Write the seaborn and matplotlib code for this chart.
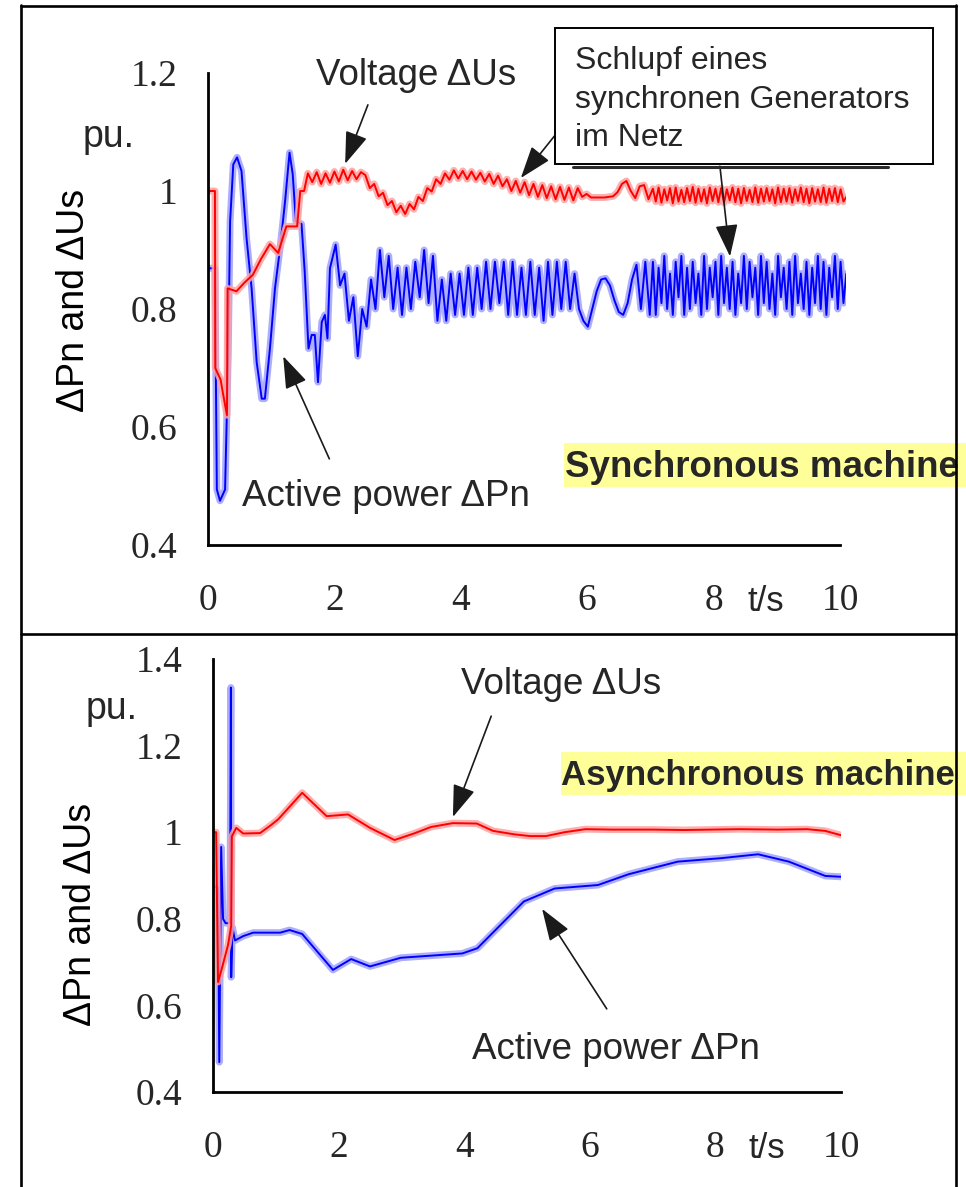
#!/usr/bin/env python3
"""
Recreate the scanned figure: active power and voltage after a fault,
synchronous machine (top) versus asynchronous machine (bottom).
"""

import numpy as np
import matplotlib
matplotlib.use("Agg")
import matplotlib.pyplot as plt
from matplotlib.lines import Line2D
from matplotlib.patches import Rectangle
import seaborn as sns

# ---------------------------------------------------------------- data
XTICKS = [0, 2, 4, 6, 8, 10]
XTICK_LABELS = ['0', '2', '4', '6', '8', '10']
YTICKS_TOP = [0.4, 0.6, 0.8, 1.0, 1.2]
YTICK_LABELS_TOP = ['0.4', '0.6', '0.8', '1', '1.2']
YTICKS_BOT = [0.4, 0.6, 0.8, 1.0, 1.2, 1.4]
YTICK_LABELS_BOT = ['0.4', '0.6', '0.8', '1', '1.2', '1.4']

# synchronous machine, voltage dUs: start-up transient
SYN_U_T = [0, 0.11, 0.115, 0.20, 0.24, 0.30, 0.31, 0.45, 0.58, 0.71, 0.84,
           0.98, 1.11, 1.24, 1.41, 1.46, 1.52]
SYN_U_V = [1.0, 1.0, 0.70, 0.68, 0.655, 0.62, 0.835, 0.83, 0.845, 0.858, 0.885,
           0.91, 0.895, 0.94, 0.94, 1.0, 1.0]
# ... then the ripple, one reading every SYN_U_STEP seconds from SYN_U_T0
SYN_U_T0 = 1.58
SYN_U_STEP = 0.07
SYN_U_RIPPLE = [
    1.03, 1.015, 1.032, 1.012, 1.03, 1.014, 1.033, 1.016, 1.036, 1.018, 1.034, 1.02, 1.032,
    1.027, 1.005, 1.012, 0.991, 0.997, 0.976, 0.983, 0.964, 0.975, 0.961, 0.978,
    0.969, 0.99, 0.983, 1.005, 0.999, 1.02, 1.012, 1.03, 1.019, 1.035, 1.021,
    1.034, 1.02, 1.033, 1.019, 1.031, 1.016, 1.029, 1.012, 1.026, 1.008,
    1.02, 1.0, 1.017, 0.997, 1.015, 0.993, 1.012, 0.99, 1.01, 0.988, 1.008, 0.986,
    1.007, 0.985, 1.006, 0.984, 1.005, 0.99,
    0.995, 0.989, 0.989, 0.989, 0.989, 0.99, 0.991, 0.998, 1.012, 1.017, 1.0, 0.988,
    1.008, 1.01, 0.986,
]
# fast ripple in the last seconds, finer sampling
SYN_U_T1 = 7.04
SYN_U_STEP1 = 0.045
SYN_U_FAST = [
    1.004, 0.982, 1.006, 0.980, 1.003, 0.984, 1.005, 0.979, 1.006, 0.982,
    1.002, 0.981, 1.005, 0.983, 1.007, 0.980, 1.004, 0.982, 1.003, 0.979,
    1.006, 0.983, 1.004, 0.981, 1.005, 0.980, 1.003, 0.984, 1.006, 0.981,
    1.004, 0.979, 1.005, 0.983, 1.002, 0.981, 1.006, 0.980, 1.004, 0.982,
    1.005, 0.983, 1.003, 0.979, 1.006, 0.981, 1.004, 0.982, 1.005, 0.980,
    1.003, 0.983, 1.006, 0.981, 1.004, 0.979, 1.005, 0.982, 1.003, 0.981,
    1.006, 0.980, 1.004, 0.983, 1.005, 0.981, 1.003, 0.982, 0.990,
]

# synchronous machine, active power dPn: start-up transient
SYN_P_T = [0, 0.11, 0.14, 0.19, 0.27, 0.32, 0.35, 0.40, 0.46, 0.53, 0.61, 0.69,
           0.77, 0.85, 0.90, 0.98, 1.06, 1.14, 1.22, 1.29, 1.34, 1.39, 1.48,
           1.53, 1.59, 1.64, 1.69, 1.74, 1.80, 1.85, 1.89, 1.93, 2.02]
SYN_P_V = [0.869, 0.869, 0.494, 0.475, 0.494, 0.722, 0.949, 1.045, 1.057, 1.034,
           0.92, 0.835, 0.71, 0.648, 0.648, 0.733, 0.835, 0.903, 0.983, 1.065,
           1.029, 0.949, 0.944, 0.864, 0.733, 0.756, 0.756, 0.676, 0.778, 0.79,
           0.75, 0.869, 0.909]
SYN_P_T0 = 2.09
SYN_P_STEP = 0.07
SYN_P_RIPPLE = [
    0.84, 0.86, 0.78, 0.82, 0.72, 0.80, 0.77, 0.85, 0.80, 0.90,
    0.82, 0.89, 0.80, 0.87, 0.79, 0.87, 0.80, 0.88, 0.82, 0.90,
    0.81, 0.89, 0.78, 0.85, 0.78, 0.86, 0.79, 0.86, 0.79, 0.87,
    0.79, 0.87, 0.80, 0.88, 0.80, 0.88, 0.81, 0.88, 0.79, 0.88,
    0.79, 0.87, 0.79, 0.88, 0.79, 0.87, 0.78, 0.88, 0.79, 0.88,
    0.80, 0.88, 0.80, 0.86, 0.80, 0.78, 0.77, 0.80, 0.83, 0.85,
    0.852, 0.84, 0.815, 0.795, 0.79, 0.81, 0.85, 0.875, 0.80, 0.88,
    0.79,
]
SYN_P_T1 = 7.04
SYN_P_STEP1 = 0.045
SYN_P_FAST = [
    0.88, 0.79, 0.87, 0.81, 0.89, 0.80, 0.86, 0.79, 0.88, 0.82,
    0.89, 0.79, 0.87, 0.80, 0.88, 0.81, 0.86, 0.79, 0.89, 0.80,
    0.87, 0.82, 0.88, 0.79, 0.89, 0.81, 0.87, 0.80, 0.88, 0.79,
    0.86, 0.81, 0.89, 0.80, 0.88, 0.82, 0.87, 0.79, 0.89, 0.81,
    0.88, 0.80, 0.86, 0.79, 0.89, 0.82, 0.87, 0.80, 0.88, 0.79,
    0.89, 0.81, 0.86, 0.80, 0.88, 0.79, 0.87, 0.81, 0.89, 0.80,
    0.88, 0.79, 0.87, 0.82, 0.89, 0.80, 0.88, 0.81, 0.86,
]

# asynchronous machine
ASY_U_T = [0, 0.05, 0.08, 0.15, 0.24, 0.29, 0.30, 0.37, 0.48, 0.75, 0.92, 1.04,
           1.42, 1.81, 2.15, 2.5, 2.89, 3.2, 3.47, 3.82, 4.2, 4.46, 4.8, 5.05,
           5.3, 5.6, 5.93, 6.35, 7.0, 7.5, 8.38, 9.0, 9.46, 9.75, 10.0]
ASY_U_V = [1.0, 1.0, 0.654, 0.69, 0.74, 0.784, 0.99, 1.01, 0.997, 0.998, 1.016,
           1.03, 1.091, 1.037, 1.041, 1.01, 0.982, 0.997, 1.012, 1.021, 1.02,
           1.003, 0.995, 0.991, 0.991, 1.0, 1.007, 1.006, 1.006, 1.005, 1.007,
           1.006, 1.007, 1.003, 0.993]
ASY_P_T = [0, 0.08, 0.10, 0.13, 0.16, 0.20, 0.27, 0.285, 0.29, 0.31, 0.35, 0.48,
           0.64, 1.07, 1.22, 1.42, 1.91, 2.2, 2.5, 2.99, 3.97, 4.21, 4.95, 5.44,
           6.13, 6.62, 7.4, 8.09, 8.68, 9.17, 9.75, 10.0]
ASY_P_V = [0.873, 0.873, 0.469, 0.966, 0.80, 0.79, 0.79, 1.334, 0.665, 0.78,
           0.75, 0.76, 0.768, 0.768, 0.774, 0.765, 0.682, 0.707, 0.69, 0.71,
           0.72, 0.732, 0.84, 0.87, 0.878, 0.903, 0.932, 0.94, 0.949, 0.932,
           0.899, 0.897]

# ---------------------------------------------------------------- style
W, H = 966, 1187
SANS = ['Liberation Sans', 'DejaVu Sans']
SERIF = ['Liberation Serif', 'DejaVu Serif']
RED, RED_HALO = '#ff0000', '#ffa0a0'
BLUE, BLUE_HALO = '#0000ff', '#a0a0ff'
YELLOW = '#ffff99'

sns.set_theme(style='white')
plt.rcParams['font.family'] = SANS


def fx(px):
    return px / W


def fy(py):
    return 1 - py / H


def joined(t_head, v_head, *sampled):
    """Transient readings followed by blocks read at a fixed sampling step."""
    ts, vs = [np.asarray(t_head, float)], [np.asarray(v_head, float)]
    for t0, step, vals in sampled:
        ts.append(t0 + step * np.arange(len(vals)))
        vs.append(np.asarray(vals, float))
    return np.concatenate(ts), np.concatenate(vs)


def trace(ax, t, v, color, halo):
    # scanned lines: pale smeared edge with a saturated core
    sns.lineplot(x=t, y=v, sort=False, estimator=None, color=halo,
                 linewidth=5.0, alpha=0.85, ax=ax)
    sns.lineplot(x=t, y=v, sort=False, estimator=None, color=color,
                 linewidth=1.4, ax=ax)


def style_axes(ax, yticks, ylabels, ylim, xlim, ylab_y):
    ax.set_xlim(*xlim)
    ax.set_ylim(*ylim)
    sns.despine(ax=ax)
    ax.patch.set_visible(False)
    for side in ('left', 'bottom'):
        ax.spines[side].set_linewidth(2.0)
        ax.spines[side].set_color('black')
    ax.spines['bottom'].set_bounds(0, 10)
    ax.set_xticks(XTICKS, XTICK_LABELS)
    ax.set_yticks(yticks, ylabels)
    ax.tick_params(direction='out', length=9, width=1.9, colors='black',
                   labelcolor='#262626', labelsize=27)
    ax.tick_params(axis='x', pad=19)
    ax.tick_params(axis='y', pad=13)
    for lbl in ax.get_xticklabels() + ax.get_yticklabels():
        lbl.set_fontfamily(SERIF)
    ax.set_xlabel('')
    ax.set_ylabel('ΔPn and ΔUs', fontsize=27, color='black')
    ax.yaxis.set_label_coords(-0.182, ylab_y)


def arrow(ax, tip, tail):
    ax.annotate('', xy=tip, xytext=tail, annotation_clip=False,
                arrowprops=dict(arrowstyle='-|>,head_length=1.0,head_width=0.35',
                                mutation_scale=20, color='#1a1a1a', lw=1.2,
                                shrinkA=0, shrinkB=0))


fig = plt.figure(figsize=(W / 100, H / 100), dpi=100)
fig.patch.set_facecolor('white')

# ---------------------------------------------------------------- top panel
ax1 = fig.add_axes([fx(208), fy(545), 638.3 / W, 472 / H])
syn_p_t, syn_p_v = joined(SYN_P_T, SYN_P_V,
                          (SYN_P_T0, SYN_P_STEP, SYN_P_RIPPLE),
                          (SYN_P_T1, SYN_P_STEP1, SYN_P_FAST))
syn_u_t, syn_u_v = joined(SYN_U_T, SYN_U_V,
                          (SYN_U_T0, SYN_U_STEP, SYN_U_RIPPLE),
                          (SYN_U_T1, SYN_U_STEP1, SYN_U_FAST))
trace(ax1, syn_p_t, syn_p_v, BLUE, BLUE_HALO)
trace(ax1, syn_u_t, syn_u_v, RED, RED_HALO)
style_axes(ax1, YTICKS_TOP, YTICK_LABELS_TOP, (0.4, 1.2), (0, 10.1), 0.519)
ax1.annotate('t/s', xy=(8.83, 0), xycoords=('data', 'axes fraction'),
             xytext=(0, -41), textcoords='offset points', ha='center',
             va='center', fontsize=25)

arrow(ax1, (2.17, 1.046), (2.53, 1.146))   # voltage
arrow(ax1, (1.19, 0.72), (1.92, 0.546))    # active power
arrow(ax1, (4.95, 1.022), (5.48, 1.093))   # box -> voltage ripple
arrow(ax1, (8.26, 0.889), (8.10, 1.042))   # box -> power ripple

# ---------------------------------------------------------------- bottom panel
ax2 = fig.add_axes([fx(213), fy(1092), 628 / W, 433 / H])
trace(ax2, ASY_P_T, ASY_P_V, BLUE, BLUE_HALO)
trace(ax2, ASY_U_T, ASY_U_V, RED, RED_HALO)
style_axes(ax2, YTICKS_BOT, YTICK_LABELS_BOT, (0.4, 1.4), (0, 10), 0.409)
ax2.annotate('t/s', xy=(8.82, 0), xycoords=('data', 'axes fraction'),
             xytext=(0, -41), textcoords='offset points', ha='center',
             va='center', fontsize=25)

arrow(ax2, (3.82, 1.035), (4.43, 1.268))
arrow(ax2, (5.24, 0.823), (6.27, 0.592))

# ---------------------------------------------------------------- labels
fig.text(fx(416), fy(85), 'Voltage ΔUs', ha='center', va='baseline', fontsize=26.5)
fig.text(fx(386), fy(506), 'Active power ΔPn', ha='center', va='baseline', fontsize=26.5)
fig.text(fx(561), fy(694), 'Voltage ΔUs', ha='center', va='baseline', fontsize=26.5)
fig.text(fx(616), fy(1059), 'Active power ΔPn', ha='center', va='baseline', fontsize=26.5)
fig.text(fx(83), fy(147), 'pu.', ha='left', va='baseline', fontsize=27)
fig.text(fx(86), fy(719), 'pu.', ha='left', va='baseline', fontsize=27)

# yellow machine tags
fig.patches.append(Rectangle((fx(564), fy(487)), 1 - fx(564), 44 / H,
                             transform=fig.transFigure, fc=YELLOW, ec='none', zorder=1))
fig.patches.append(Rectangle((fx(561), fy(795)), 1 - fx(561), 43 / H,
                             transform=fig.transFigure, fc=YELLOW, ec='none', zorder=1))
fig.text(fx(565), fy(477), 'Synchronous machine', ha='left', va='baseline',
         fontsize=26.5, fontweight='bold', zorder=3)
fig.text(fx(561), fy(785), 'Asynchronous machine', ha='left', va='baseline',
         fontsize=25, fontweight='bold', zorder=3)

# callout box with shadow
fig.add_artist(Line2D([fx(573), fx(888)], [fy(166.5), fy(166.5)], color='#2a2a2a',
                      lw=2.2, zorder=4))
fig.patches.append(Rectangle((fx(555), fy(164)), (933 - 555) / W, (164 - 28) / H,
                             transform=fig.transFigure, fc='white', ec='black',
                             lw=1.4, zorder=5))
fig.text(fx(575), fy(46), 'Schlupf eines\nsynchronen Generators\nim Netz',
         ha='left', va='top', fontsize=23, linespacing=1.38, zorder=6)

# outer frame and divider of the scanned slide
for xs, ys in [([21, 21], [5, H]), ([956, 956], [5, H]),
               ([21, 956], [5.5, 5.5]), ([21, 956], [634, 634])]:
    fig.add_artist(Line2D([fx(x) for x in xs], [fy(y) for y in ys],
                          color='black', lw=1.9, zorder=10))

fig.savefig('out.png', dpi=100)
